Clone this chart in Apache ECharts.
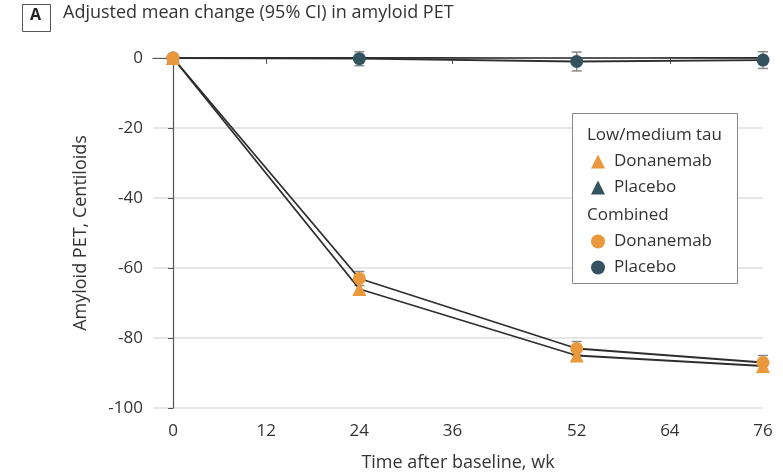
<!DOCTYPE html>
<html>
<head>
<meta charset="utf-8">
<script src="https://cdn.jsdelivr.net/npm/echarts@6/dist/echarts.min.js"></script>
<style>html,body{margin:0;padding:0;background:#fff}#c{width:783px;height:475px}</style>
</head>
<body>
<div id="c"></div>
<script>
// ---- data ----
var weeks = [0, 24, 52, 76];
var xTicks = [0, 12, 24, 36, 52, 64, 76];
var lowTauDonanemab = [0, -66, -85, -88];
var lowTauPlacebo = [0, 0.2, 0.4, 0.2];
var combinedDonanemab = [0, -63, -83, -87];
var combinedPlacebo = [0, -0.2, -1.0, -0.6];
var donanemabCI = [0, 2, 2, 2];
var placeboCI = [0, 2, 2.7, 2.4];

var ORANGE = '#E9983B', TEAL = '#34535F', TXT = '#333', FONT = 'Open Sans';

function pts(vals) { return weeks.map(function (w, i) { return [w, vals[i]]; }); }
function ciData(vals, ci) { return weeks.map(function (w, i) { return [w, vals[i] - ci[i], vals[i] + ci[i]]; }); }

function errRender(params, api) {
  var x = api.value(0);
  var lo = api.coord([x, api.value(1)]);
  var hi = api.coord([x, api.value(2)]);
  var hw = 5;
  var st = { stroke: '#8a8a8a', lineWidth: 1.5 };
  return {
    type: 'group',
    children: [
      { type: 'line', shape: { x1: lo[0], y1: lo[1], x2: hi[0], y2: hi[1] }, style: st },
      { type: 'line', shape: { x1: lo[0] - hw, y1: lo[1], x2: lo[0] + hw, y2: lo[1] }, style: st },
      { type: 'line', shape: { x1: hi[0] - hw, y1: hi[1], x2: hi[0] + hw, y2: hi[1] }, style: st }
    ]
  };
}

function lineSeries(name, vals, symbol, size, color, z) {
  return {
    name: name, type: 'line', data: pts(vals), symbol: symbol, symbolSize: size,
    showAllSymbol: true, z: z,
    lineStyle: { color: '#2e2e2e', width: 1.8 },
    itemStyle: { color: color, opacity: 1 },
    emphasis: { disabled: true }, animation: false
  };
}

var chart = echarts.init(document.getElementById('c'));
var legendText = { fontFamily: FONT, fontSize: 17, color: TXT, padding: [0, 0, 0, 4], lineHeight: 14 };
chart.setOption({
  animation: false,
  grid: { left: 153, right: 20, top: 58, bottom: 67, outerBoundsMode: 'none', containLabel: false },
  xAxis: {
    type: 'value', min: -2.58, max: 76,
    name: 'Time after baseline, wk', nameLocation: 'middle', nameGap: 46,
    nameTextStyle: { fontFamily: FONT, fontSize: 18, color: TXT },
    axisLine: { show: true, lineStyle: { color: '#555', width: 1.2 } },
    axisTick: { show: true, length: 6, customValues: xTicks, lineStyle: { color: '#555' } },
    axisLabel: { customValues: xTicks, fontFamily: FONT, fontSize: 17, color: TXT, margin: 15 },
    splitLine: { show: false }
  },
  yAxis: {
    type: 'value', min: -100, max: 0, interval: 20,
    name: 'Amyloid PET, Centiloids', nameLocation: 'middle', nameGap: 63,
    nameTextStyle: { fontFamily: FONT, fontSize: 18, color: TXT },
    axisLine: { show: true, lineStyle: { color: '#555', width: 1.2 } },
    axisTick: { show: true, length: 5, lineStyle: { color: '#555' } },
    axisLabel: { fontFamily: FONT, fontSize: 17, color: TXT, margin: 10 },
    splitLine: { show: true, lineStyle: { color: '#dedede', width: 1.5 } }
  },
  legend: [
    {
      orient: 'vertical', left: 586, top: 148, itemWidth: 14, itemHeight: 14, itemGap: 9, z: 20,
      selectedMode: false, textStyle: legendText,
      formatter: function (n) { return n.split('|')[1]; },
      data: [{ name: 'Low/medium tau|Donanemab', icon: 'triangle' }, { name: 'Low/medium tau|Placebo', icon: 'triangle' }]
    },
    {
      orient: 'vertical', left: 586, top: 228, itemWidth: 14, itemHeight: 14, itemGap: 9, z: 20,
      selectedMode: false, textStyle: legendText,
      formatter: function (n) { return n.split('|')[1]; },
      data: [{ name: 'Combined|Donanemab', icon: 'circle' }, { name: 'Combined|Placebo', icon: 'circle' }]
    }
  ],
  graphic: [
    { type: 'rect', left: 22, top: 4, shape: { width: 28, height: 27 }, style: { fill: '#fff', stroke: '#555', lineWidth: 1 } },
    { type: 'text', left: 30, top: 7, style: { text: 'A', fontFamily: FONT, fontSize: 16, fontWeight: 'bold', fill: '#222' } },
    { type: 'text', left: 63, top: 4, style: { text: 'Adjusted mean change (95% CI) in amyloid PET', fontFamily: FONT, fontSize: 18, fill: TXT } },
    { type: 'rect', left: 572, top: 113, z: 5, shape: { width: 165, height: 170 }, style: { fill: '#fff', stroke: '#888', lineWidth: 1 } },
    { type: 'text', left: 587, top: 127, z: 6, style: { text: 'Low/medium tau', fontFamily: FONT, fontSize: 17, fill: TXT } },
    { type: 'text', left: 587, top: 207, z: 6, style: { text: 'Combined', fontFamily: FONT, fontSize: 17, fill: TXT } }
  ],
  series: [
    { type: 'custom', renderItem: errRender, data: ciData(combinedPlacebo, placeboCI), z: 1, silent: true },
    { type: 'custom', renderItem: errRender, data: ciData(combinedDonanemab, donanemabCI), z: 1, silent: true },
    lineSeries('Low/medium tau|Placebo', lowTauPlacebo, 'triangle', 14, TEAL, 2),
    lineSeries('Combined|Placebo', combinedPlacebo, 'circle', 13, TEAL, 3),
    lineSeries('Low/medium tau|Donanemab', lowTauDonanemab, 'triangle', 14, ORANGE, 4),
    lineSeries('Combined|Donanemab', combinedDonanemab, 'circle', 13, ORANGE, 4)
  ]
});
</script>
</body>
</html>
